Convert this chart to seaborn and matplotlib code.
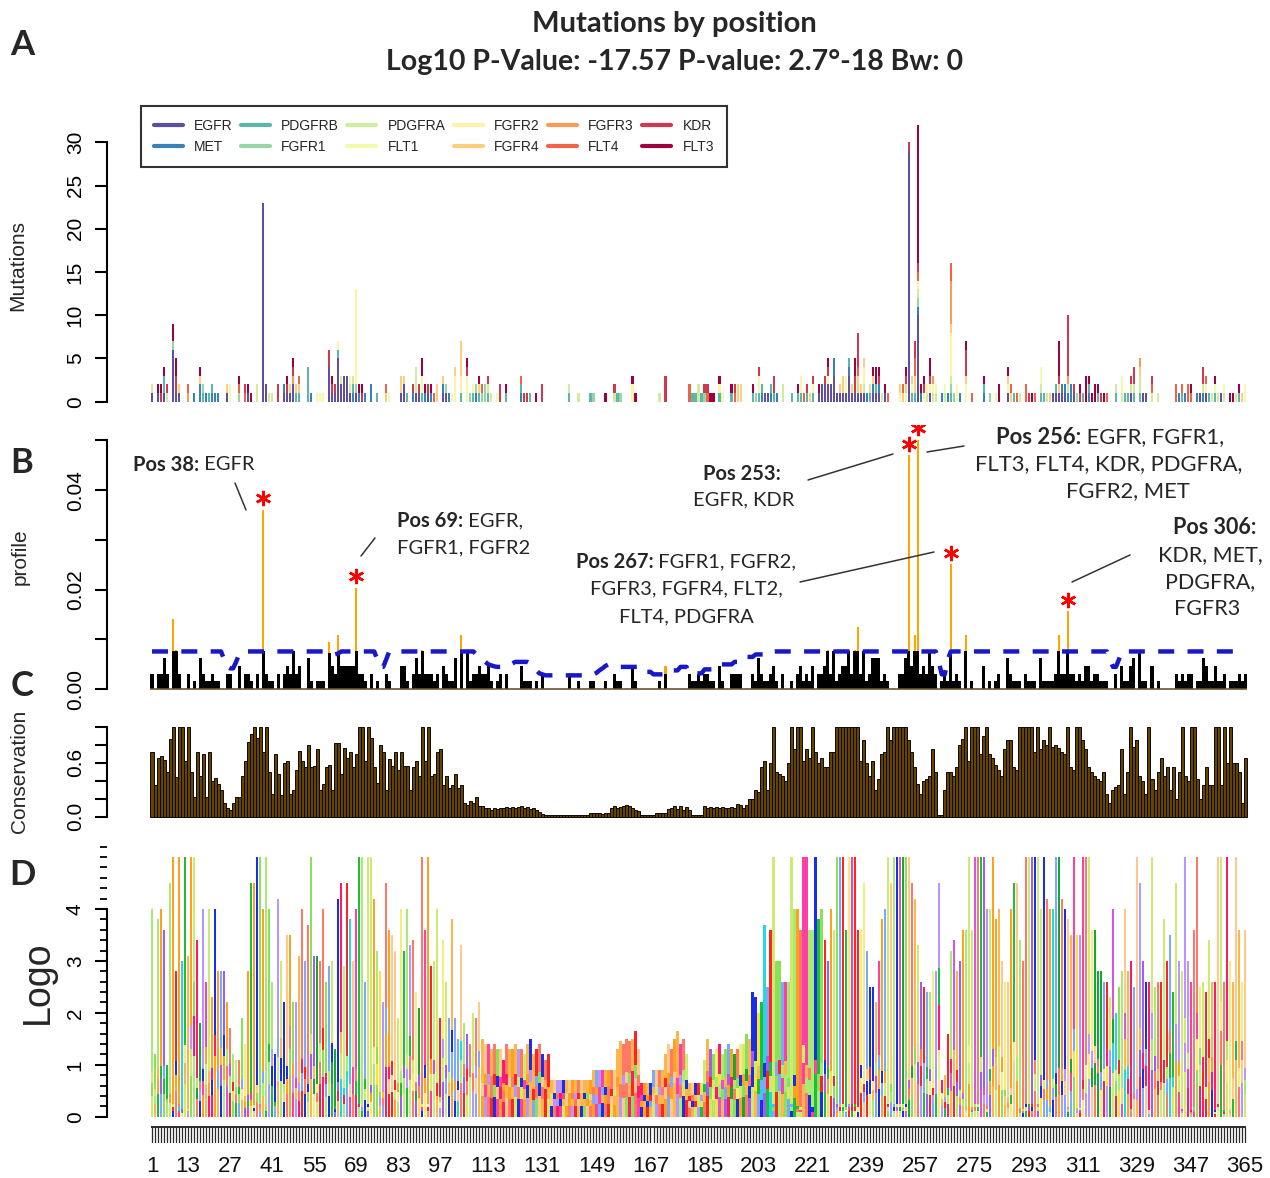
import numpy as np
import pandas as pd
import matplotlib
matplotlib.use("Agg")
import matplotlib.pyplot as plt
from matplotlib.lines import Line2D
import seaborn as sns

# ------------------------------------------------------------------ data
genes = ["EGFR", "MET", "PDGFRB", "FGFR1", "PDGFRA", "FLT1",
         "FGFR2", "FGFR4", "FGFR3", "FLT4", "KDR", "FLT3"]

# mutations per position for each gene  {position: count}
EGFR = {1: 1, 3: 1, 5: 1, 8: 6, 9: 1, 10: 1, 26: 1, 33: 1, 38: 23, 39: 2, 45: 1, 46: 1,
        47: 1, 48: 2, 60: 4, 61: 1, 62: 1, 63: 5, 64: 2, 65: 3, 66: 3, 67: 1, 69: 1,
        84: 1, 85: 2, 89: 1, 90: 1, 93: 1, 98: 1, 99: 1, 205: 1, 206: 1, 223: 1,
        224: 2, 225: 2, 226: 2, 227: 2, 228: 3, 229: 1, 230: 1, 231: 1, 232: 1,
        233: 3, 234: 1, 235: 1, 236: 1, 237: 1, 238: 1, 241: 1, 242: 1, 243: 1,
        245: 1, 253: 29, 256: 10, 260: 1, 286: 1, 301: 1, 302: 1, 303: 1, 304: 1,
        305: 1, 308: 1, 327: 1, 331: 1, 332: 1, 350: 1, 352: 1, 357: 1}
MET = {15: 1, 17: 2, 19: 1, 21: 1, 22: 1, 23: 1, 45: 1, 54: 1, 68: 1, 70: 1, 72: 1,
       74: 2, 88: 1, 92: 1, 94: 1, 98: 1, 100: 1, 109: 1, 124: 1, 204: 1, 207: 1,
       209: 1, 228: 2, 233: 1, 239: 1, 241: 1, 243: 1, 256: 1, 257: 1, 264: 1,
       266: 1, 270: 1, 278: 1, 304: 1, 305: 1, 306: 1, 307: 2, 313: 1, 343: 1,
       345: 1, 349: 1, 351: 1}
PDGFRB = {5: 2, 18: 1, 20: 1, 21: 1, 49: 1, 50: 1, 53: 4, 63: 1, 68: 1, 76: 1, 86: 1,
          91: 1, 104: 1, 108: 1, 110: 1, 113: 1, 119: 1, 124: 1, 127: 1, 140: 1,
          147: 1, 156: 1, 181: 1, 182: 1, 184: 1, 190: 1, 194: 1, 201: 1, 203: 1,
          204: 1, 207: 1, 208: 1, 214: 1, 216: 1, 217: 1, 219: 1, 221: 1, 233: 1,
          240: 1, 242: 1, 254: 1, 255: 1, 267: 1, 278: 1, 288: 1, 297: 1, 298: 1,
          302: 1, 311: 1, 313: 1, 316: 1, 322: 1, 325: 1, 326: 1, 328: 1, 330: 1,
          344: 1, 353: 1, 355: 1, 363: 1}
FGFR1 = {8: 1, 18: 1, 30: 1, 69: 1, 99: 1, 107: 1, 109: 1, 111: 1, 112: 2, 148: 1,
         157: 1, 185: 1, 202: 1, 256: 1, 267: 1, 268: 1, 280: 1, 309: 1}
PDGFRA = {1: 1, 6: 1, 36: 2, 40: 1, 41: 1, 64: 1, 67: 1, 68: 1, 89: 3, 113: 1, 114: 1,
          140: 1, 143: 1, 155: 1, 170: 1, 183: 2, 211: 2, 238: 1, 240: 1, 244: 1,
          256: 1, 259: 1, 261: 1, 262: 1, 265: 1, 267: 1, 290: 1, 297: 1, 299: 1,
          306: 1, 322: 1, 324: 1, 327: 1, 328: 1, 330: 2, 334: 1, 336: 1, 351: 1,
          354: 1, 356: 1, 358: 1, 362: 1}
FLT1 = {27: 2, 56: 1, 57: 1, 58: 1, 63: 1, 67: 1, 80: 1, 91: 2, 101: 1, 106: 2, 116: 1,
        191: 1, 203: 1, 217: 1, 221: 1, 232: 2, 254: 1, 261: 1, 262: 1, 265: 1,
        269: 2, 272: 2, 297: 2, 324: 2, 355: 1, 358: 1, 365: 2}
FGFR2 = {69: 11, 102: 3, 104: 2, 106: 1, 108: 1, 161: 2, 190: 1, 203: 1, 217: 1,
         226: 1, 238: 2, 250: 1, 252: 1, 256: 1, 258: 1, 259: 1, 260: 1, 267: 5,
         282: 1, 286: 1, 352: 1}
FGFR4 = {10: 1, 17: 1, 26: 1, 47: 1, 49: 1, 50: 1, 79: 1, 84: 2, 85: 1, 96: 2, 98: 1,
         102: 1, 104: 4, 110: 1, 196: 2, 197: 2, 220: 1, 230: 1, 231: 2, 234: 1,
         236: 2, 237: 1, 238: 1, 241: 1, 250: 1, 251: 1, 252: 1, 254: 1, 255: 2,
         267: 1, 272: 1, 286: 1, 287: 1, 300: 1, 303: 1, 330: 1, 364: 1}
FGFR3 = {13: 1, 48: 1, 261: 1, 267: 5, 306: 1, 330: 1}
FLT4 = {13: 1, 30: 1, 32: 1, 50: 1, 79: 1, 95: 1, 111: 1, 124: 1, 180: 2, 186: 1,
        195: 1, 218: 1, 236: 1, 246: 1, 251: 1, 255: 2, 256: 1, 267: 2, 274: 1,
        287: 1, 289: 1, 292: 2, 295: 1, 319: 1, 334: 1, 342: 2, 344: 1, 346: 2,
        347: 1, 352: 1}
KDR = {4: 1, 6: 1, 9: 2, 32: 1, 43: 2, 46: 1, 48: 1, 60: 2, 61: 1, 62: 1, 71: 1, 88: 1,
       90: 1, 93: 1, 106: 1, 113: 1, 117: 2, 125: 1, 126: 1, 131: 2, 155: 1, 172: 3,
       185: 1, 186: 1, 195: 1, 203: 1, 208: 2, 219: 1, 221: 1, 225: 1, 226: 1,
       235: 2, 236: 4, 243: 1, 252: 1, 253: 1, 255: 2, 256: 1, 258: 1, 260: 1,
       272: 3, 293: 1, 303: 1, 306: 7, 308: 1, 310: 1, 317: 1, 327: 1, 328: 2,
       334: 1, 351: 2}
FLT3 = {3: 1, 4: 1, 5: 1, 8: 2, 9: 2, 17: 1, 30: 1, 33: 1, 34: 1, 46: 1, 48: 1, 61: 1,
        70: 1, 71: 1, 91: 2, 92: 1, 94: 1, 106: 1, 110: 1, 119: 1, 129: 1, 152: 1,
        161: 1, 162: 1, 187: 1, 188: 1, 190: 1, 194: 1, 201: 1, 216: 1, 223: 1,
        226: 1, 235: 2, 241: 1, 242: 2, 243: 1, 245: 1, 252: 1, 256: 16, 257: 1,
        258: 1, 260: 2, 272: 1, 278: 1, 283: 2, 286: 1, 294: 1, 303: 4, 310: 1,
        312: 3, 313: 1, 314: 1, 315: 2, 316: 1, 318: 1, 347: 1, 355: 1, 360: 1,
        361: 1, 363: 1}

total_mutations = 638          # profile = mutations / total
significant_positions = [38, 69, 253, 256, 267, 306]

# background threshold (dashed line), units of 1e-4
threshold_e4 = [
    76, 76, 76, 76, 76, 76, 76, 76, 76, 76, 76, 76, 76, 76, 76, 76, 76, 76, 76, 76,
    76, 76, 76, 76, 60, 45, 42, 42, 55, 70, 76, 76, 76, 76, 76, 76, 76, 76, 76, 76,
    76, 76, 76, 76, 76, 76, 76, 76, 76, 76, 76, 76, 76, 76, 76, 76, 76, 76, 76, 72,
    70, 70, 72, 76, 76, 76, 76, 76, 76, 76, 76, 76, 76, 76, 76, 60, 45, 45, 60, 76,
    76, 76, 76, 76, 76, 76, 76, 76, 76, 76, 76, 76, 76, 76, 76, 76, 76, 76, 76, 76,
    76, 76, 76, 76, 76, 76, 76, 76, 70, 65, 60, 55, 50, 48, 46, 45, 45, 45, 45, 48,
    52, 55, 55, 55, 55, 55, 52, 45, 38, 32, 30, 28, 28, 28, 28, 28, 28, 28, 28, 28,
    28, 28, 28, 28, 28, 28, 28, 30, 33, 38, 42, 47, 50, 50, 48, 46, 45, 45, 45, 45,
    45, 45, 45, 35, 35, 35, 35, 30, 30, 30, 30, 30, 38, 38, 38, 38, 45, 45, 45, 32,
    32, 32, 32, 32, 40, 40, 40, 40, 40, 50, 50, 50, 50, 50, 55, 55, 55, 65, 65, 65,
    65, 70, 70, 70, 70, 76, 76, 76, 76, 76, 76, 76, 76, 76, 76, 76, 76, 76, 76, 76,
    76, 76, 76, 76, 76, 76, 76, 76, 76, 76, 76, 76, 76, 76, 76, 76, 76, 76, 76, 76,
    76, 76, 76, 76, 76, 76, 76, 76, 76, 76, 76, 76, 76, 76, 76, 76, 76, 76, 76, 76,
    76, 76, 55, 30, 30, 60, 76, 76, 76, 76, 76, 76, 76, 76, 76, 76, 76, 76, 76, 76,
    76, 76, 76, 76, 76, 76, 76, 76, 76, 76, 76, 76, 76, 76, 76, 76, 76, 76, 76, 76,
    76, 76, 76, 76, 76, 76, 76, 76, 76, 76, 76, 76, 76, 76, 76, 76, 76, 76, 76, 60,
    45, 45, 60, 76, 76, 76, 76, 76, 76, 76, 76, 76, 76, 76, 76, 76, 76, 76, 76, 76,
    76, 76, 76, 76, 76, 76, 76, 76, 76, 76, 76, 76, 76, 76, 76, 76, 76, 76, 76, 76,
    76, 76, 76, 76, 76]

conservation = [
    0.72, 0.35, 0.66, 0.68, 0.63, 0.50, 0.87, 1.00, 0.44, 1.00, 1.00, 0.62, 1.00, 0.50, 0.22, 0.72, 0.45, 0.70, 0.22, 0.72,
    0.40, 0.43, 0.37, 0.30, 0.15, 0.10, 0.07, 0.15, 0.22, 0.22, 0.45, 0.62, 0.83, 0.92, 1.00, 0.88, 1.00, 0.72, 1.00, 0.50,
    0.25, 0.70, 0.48, 0.24, 0.60, 0.62, 0.25, 0.30, 0.52, 0.73, 0.62, 0.55, 0.80, 0.55, 0.56, 0.75, 0.30, 0.37, 0.55, 0.58,
    0.30, 0.82, 0.82, 0.48, 0.77, 0.65, 0.72, 0.55, 0.70, 1.00, 1.00, 0.62, 1.00, 0.88, 0.55, 0.38, 0.80, 0.72, 0.30, 0.64,
    0.57, 0.72, 0.52, 0.72, 0.57, 0.57, 0.30, 0.55, 0.62, 0.45, 1.00, 0.62, 1.00, 0.45, 0.48, 0.72, 0.75, 0.35, 0.45, 0.32,
    0.35, 0.48, 0.32, 0.35, 0.15, 0.13, 0.17, 0.15, 0.22, 0.12, 0.12, 0.10, 0.10, 0.08, 0.10, 0.09, 0.10, 0.10, 0.11, 0.10,
    0.11, 0.10, 0.11, 0.12, 0.10, 0.11, 0.09, 0.10, 0.08, 0.05, 0.03, 0.02, 0.02, 0.02, 0.02, 0.02, 0.02, 0.02, 0.02, 0.02,
    0.02, 0.02, 0.02, 0.02, 0.02, 0.02, 0.04, 0.04, 0.04, 0.04, 0.03, 0.04, 0.04, 0.10, 0.12, 0.10, 0.11, 0.12, 0.13, 0.12,
    0.10, 0.08, 0.06, 0.02, 0.02, 0.02, 0.02, 0.02, 0.04, 0.04, 0.04, 0.04, 0.09, 0.10, 0.12, 0.09, 0.12, 0.08, 0.11, 0.08,
    0.02, 0.02, 0.02, 0.02, 0.12, 0.10, 0.11, 0.10, 0.11, 0.10, 0.11, 0.10, 0.10, 0.11, 0.10, 0.14, 0.13, 0.10, 0.13, 0.20,
    0.20, 0.30, 0.27, 0.55, 0.62, 0.30, 0.60, 1.00, 0.50, 0.48, 0.45, 0.40, 0.60, 1.00, 0.75, 1.00, 1.00, 0.62, 0.75, 0.65,
    1.00, 0.72, 0.60, 0.65, 0.55, 0.55, 0.72, 0.72, 1.00, 1.00, 1.00, 1.00, 1.00, 1.00, 1.00, 1.00, 0.62, 0.85, 0.60, 0.45,
    0.62, 0.30, 0.42, 0.70, 0.72, 1.00, 0.85, 1.00, 1.00, 1.00, 1.00, 1.00, 0.85, 0.72, 0.55, 0.37, 0.25, 0.40, 0.42, 0.45,
    0.75, 0.50, 0.02, 0.02, 0.30, 0.50, 0.50, 0.45, 0.55, 0.80, 0.87, 1.00, 0.62, 1.00, 1.00, 1.00, 0.70, 0.90, 1.00, 0.70,
    0.65, 0.58, 0.52, 0.45, 0.75, 0.85, 0.85, 0.55, 0.52, 1.00, 1.00, 1.00, 1.00, 1.00, 0.72, 1.00, 0.75, 0.85, 0.80, 1.00,
    0.78, 0.80, 0.77, 0.72, 0.70, 1.00, 0.55, 0.52, 1.00, 1.00, 0.85, 0.75, 0.55, 0.50, 0.45, 0.42, 0.40, 0.50, 0.25, 0.15,
    0.30, 0.33, 0.35, 0.75, 0.25, 0.50, 1.00, 0.78, 0.85, 0.45, 0.40, 0.25, 1.00, 0.42, 0.30, 0.50, 0.65, 0.45, 0.55, 0.30,
    0.55, 0.20, 0.50, 1.00, 0.45, 0.40, 1.00, 1.00, 0.42, 0.20, 0.35, 0.55, 0.35, 0.35, 1.00, 1.00, 0.35, 1.00, 0.60, 1.00,
    0.60, 0.60, 0.50, 0.15, 0.65]

logo_height = [
    4.0, 1.2, 3.8, 4.0, 3.6, 1.0, 4.5, 5.0, 2.8, 5.0, 3.0, 5.0, 3.1, 5.0, 5.0, 3.4, 1.8, 4.0, 2.6, 4.0,
    2.3, 4.0, 2.8, 2.8, 2.8, 2.2, 1.7, 1.2, 1.1, 1.1, 1.9, 1.4, 2.8, 4.5, 4.5, 5.0, 5.0, 4.0, 5.0, 4.0,
    2.6, 1.2, 4.2, 3.0, 2.2, 3.5, 3.5, 2.2, 2.2, 3.1, 4.0, 3.0, 3.7, 5.0, 3.1, 3.1, 3.0, 4.0, 2.6, 2.9,
    3.0, 1.3, 4.2, 4.5, 2.9, 4.5, 3.8, 3.0, 4.0, 5.0, 5.0, 2.6, 5.0, 5.0, 4.2, 3.2, 2.8, 2.2, 4.5, 3.6,
    3.5, 3.2, 1.9, 4.0, 3.2, 4.0, 3.3, 3.4, 2.4, 2.1, 5.0, 3.6, 5.0, 2.9, 3.0, 4.0, 1.9, 3.4, 2.6, 1.9,
    3.8, 1.9, 1.5, 3.3, 1.8, 1.6, 1.4, 2.0, 1.9, 2.2, 1.5, 1.4, 1.4, 1.3, 1.4, 1.3, 1.3, 1.1, 1.4, 1.3,
    1.3, 1.4, 1.3, 1.3, 1.2, 1.4, 1.5, 1.2, 1.3, 1.4, 1.2, 1.1, 1.2, 0.7, 0.7, 0.7, 0.7, 0.7, 0.7, 0.7,
    0.7, 0.7, 0.7, 0.7, 0.7, 0.7, 0.7, 0.9, 0.9, 0.9, 0.9, 0.9, 0.9, 0.9, 0.9, 1.3, 1.45, 1.4, 1.5, 1.45,
    1.5, 1.65, 1.3, 0.65, 0.65, 0.65, 0.65, 0.9, 0.9, 0.9, 0.9, 1.2, 1.4, 1.3, 1.5, 1.65, 1.4, 1.5, 1.2, 0.65,
    0.65, 0.65, 0.65, 0.65, 1.1, 1.5, 1.3, 1.2, 1.3, 1.4, 1.2, 1.3, 1.4, 1.3, 1.2, 1.3, 1.4, 1.4, 1.6, 1.5,
    2.4, 2.3, 2.0, 2.2, 3.7, 2.5, 3.6, 5.0, 3.0, 3.0, 2.6, 2.6, 2.6, 5.0, 4.0, 4.0, 3.6, 5.0, 5.0, 3.6,
    3.6, 5.0, 3.8, 4.0, 3.4, 3.0, 4.0, 3.6, 5.0, 5.0, 5.0, 3.6, 5.0, 5.0, 5.0, 3.6, 3.6, 4.5, 3.2, 2.5,
    2.5, 2.2, 3.0, 3.8, 4.0, 5.0, 4.5, 5.0, 5.0, 5.0, 5.0, 5.0, 5.0, 4.5, 4.2, 3.3, 2.6, 2.5, 2.4, 2.4,
    2.8, 2.8, 4.5, 0.7, 0.8, 1.6, 3.2, 3.4, 2.8, 3.0, 3.6, 3.6, 5.0, 3.6, 5.0, 5.0, 5.0, 5.0, 4.0, 4.0,
    5.0, 3.8, 4.0, 3.0, 2.6, 2.6, 4.0, 4.5, 4.5, 3.4, 3.0, 5.0, 5.0, 5.0, 5.0, 5.0, 4.0, 5.0, 4.2, 4.0,
    4.0, 5.0, 5.0, 4.2, 4.0, 3.8, 3.5, 5.0, 3.5, 3.5, 5.0, 5.0, 5.0, 3.6, 3.6, 2.8, 2.8, 2.6, 2.6, 2.3,
    4.0, 2.0, 2.5, 2.8, 4.0, 2.8, 3.0, 2.5, 5.0, 4.5, 3.0, 2.6, 2.6, 5.0, 2.5, 2.6, 2.6, 3.8, 3.0, 3.5,
    2.4, 4.5, 3.0, 2.8, 5.0, 3.0, 2.6, 3.6, 5.0, 2.5, 2.6, 2.4, 3.4, 2.6, 2.6, 5.0, 5.0, 2.6, 5.0, 3.0,
    2.6, 5.0, 3.6, 2.6, 3.6]

logo_main_residue = (
    "VAVGFIVGDG HISGLQMTNL GKGRFGEVLE AYGIGKAGVA VKTLKPGATS "
    "EREAFMEEAR LMKQLDHPNI VRLLGVCTEG PPLYIVTEYM ENGDLLDYLR "
    "SRRPVFELEP SPNSEAPQES GSTELSKSDE KEDSPTTKSP GSEPSSGSRT "
    "NSGEPSSEEE SDPQGSKRPE SSPEGSNELS PKDLLSFAYQ VARGMEYLAS "
    "KKCIHRDLAA RNVLVGENNV VKIADFGLAR DIYNDDYYRK KSNGRLPVKW "
    "MAPESLFDRV YTTQSDVWSF GVLLWEIFTL GGSPYPGIPV EELFKLLKEG "
    "HRMEKPSNCT NELYMMMRDC WHAVPSQRPT FKQLVEDLDR ILTLTTNEEY "
    "LDLSQPLEQY SPSYP").replace(" ", "")
logo_second_residue = (
    "LSIRAVLKEN YLTAVEKGSQ QGSKVWDAIR SFNLPERSIT IRSVKEGNTQ "
    "DKLSYLDQVK IFSHVRNEQV IKFYAASRQD DGVFLILEFC KYGNLSTFLK "
    "GKHEDLLTRS GTEDKNGQPE DLKNGTSRAP SDLKEQNLGE TDSKAPEGNR "
    "KEDLGSTPAQ AENKGDSLTE DGRPSTVKDE SLTIEDLVCW SFQVAKGMEF "
    "LSRKFIHRDV SARKILLSEK NIVKICDFGL ARDIYKDPDY VRKGDARLPL "
    "KWMAPETIFD RIYTIQSDVW SYGVLLWEIF SLGASPYPGV KIDEEFCRRL "
    "KEGTRMRAPD YTTPEMYQTM LDCWHGEPSQ RPTFSELVEH LGNLLQANAQ "
    "QDGKDYIVLP ISETL").replace(" ", "")

axis_positions = [1, 13, 27, 41, 55, 69, 83, 97, 113, 131, 149, 167, 185, 203,
                  221, 239, 257, 275, 293, 311, 329, 347, 365]

aa_colors = {'A': '#8BE05A', 'V': '#A8EB72', 'L': '#CDEB6E', 'I': '#1DBF3A', 'M': '#12A832',
             'G': '#FFA11C', 'S': '#FFB54D', 'P': '#FFC98A', 'C': '#FFE03A', 'Y': '#F4EE78',
             'F': '#A35CF2', 'T': '#B796FF', 'W': '#D955E0', 'R': '#7AA9FF', 'K': '#1A2EE6',
             'H': '#21D9DE', 'D': '#FF2424', 'E': '#FF7A66', 'N': '#FF3FA6', 'Q': '#FF1A6E'}

assert len(threshold_e4) == 365 and len(conservation) == 365 and len(logo_height) == 365
assert len(logo_main_residue) == 365 and len(logo_second_residue) == 365

# ------------------------------------------------------------------ setup
sns.set_theme(style="white")
plt.rcParams['font.family'] = ['Liberation Sans', 'DejaVu Sans']

W, H = 1270, 1178
fig = plt.figure(figsize=(W / 100, H / 100), dpi=100)


def rect(l, t, r, b):
    return [l / W, 1 - b / H, (r - l) / W, (b - t) / H]


def fx(x):
    return x / W


def fy(y):
    return 1 - y / H


PX_PER_POS = 3.003
XL = 1 - (152 - 107) / PX_PER_POS
XR = 1 + (1262 - 152) / PX_PER_POS

gene_tables = {"EGFR": EGFR, "MET": MET, "PDGFRB": PDGFRB, "FGFR1": FGFR1,
               "PDGFRA": PDGFRA, "FLT1": FLT1, "FGFR2": FGFR2, "FGFR4": FGFR4,
               "FGFR3": FGFR3, "FLT4": FLT4, "KDR": KDR, "FLT3": FLT3}
rows = [(g, p, c) for g in genes for p, c in gene_tables[g].items()]
df = pd.DataFrame(rows, columns=["gene", "position", "count"])
colors = sns.color_palette(plt.get_cmap("Spectral_r")(np.linspace(0, 1, 12)))
gene_colors = dict(zip(genes, colors))

pos = np.arange(1, 366)
counts = df.groupby("position")["count"].sum().reindex(pos, fill_value=0).to_numpy()
profile = counts / total_mutations
thr = np.array(threshold_e4) / 1e4
cons = np.array(conservation)
logo_h = np.array(logo_height)


def style_left(ax, lo, hi, ticks, labels, size=15):
    for s in ["top", "right", "bottom"]:
        ax.spines[s].set_visible(False)
    ax.spines["left"].set_bounds(lo, hi)
    ax.spines["left"].set_linewidth(1.5)
    ax.spines["left"].set_color("black")
    ax.set_yticks(ticks)
    ax.set_yticklabels(labels, rotation=90, va="center", fontsize=size)
    ax.tick_params(axis="y", left=True, direction="out", length=9, width=1.5,
                   pad=7, colors="black")
    ax.tick_params(axis="x", bottom=False, labelbottom=False)
    ax.set_xlim(XL, XR)
    ax.set_xlabel("")
    ax.set_ylabel("")
    ax.set_facecolor("none")


# ------------------------------------------------------------------ panel A
ax_a = fig.add_axes(rect(107, 100, 1262, 412))
sns.histplot(data=df, x="position", weights="count", hue="gene",
             hue_order=genes[::-1], palette=gene_colors, multiple="stack",
             discrete=True, shrink=0.72, linewidth=0, alpha=1, legend=False, ax=ax_a)
ax_a.set_ylim(-1.19, 34.89)
style_left(ax_a, 0, 30, [0, 5, 10, 15, 20, 25, 30], ["0", "5", "10", "15", "20", "25", "30"])

handles = [Line2D([0], [0], color=gene_colors[g], lw=3) for g in genes]
leg = ax_a.legend(handles, genes, ncol=6, loc="upper left",
                  bbox_to_anchor=(fx(141), fy(106)), bbox_transform=fig.transFigure,
                  frameon=True, fancybox=False, edgecolor="black", fontsize=10,
                  handlelength=2.1, columnspacing=0.6, borderpad=0.9,
                  labelspacing=0.55, handletextpad=0.8, borderaxespad=0)
leg.get_frame().set_linewidth(1.5)

# ------------------------------------------------------------------ panel B
ax_b = fig.add_axes(rect(107, 425, 1262, 695))
over = profile > thr
ax_b.bar(pos[over], profile[over], width=0.75, color="#FFA500", linewidth=0, zorder=1)
ax_b.bar(pos, np.minimum(profile, thr), width=1.0, color="black", linewidth=0, zorder=2)
ax_b.hlines(0, 0.5, 365.5, color="#6b5530", lw=1.2, zorder=3)
sns.lineplot(x=pos, y=thr, ax=ax_b, color="#1818C8", lw=3.2, estimator=None,
             linestyle=(0, (3.6, 3.0)), zorder=4)
for p in significant_positions:
    ax_b.plot(p, profile[p - 1] + 0.0023, marker=(6, 2, 0), ms=11, mew=1.8,
              color="red", zorder=5)
ax_b.set_ylim(-0.001145, 0.05307)
style_left(ax_b, 0, 0.05, [0, 0.01, 0.02, 0.03, 0.04, 0.05],
           ["0.00", "", "0.02", "", "0.04", ""])

# ------------------------------------------------------------------ panel C
ax_c = fig.add_axes(rect(107, 700, 1262, 822))
ax_c.bar(pos, cons, width=1.0, color="#654400", edgecolor="#0d0800", linewidth=0.7)
ax_c.set_ylim(-0.059, 1.301)
style_left(ax_c, 0, 1.0, [0, 0.2, 0.4, 0.6, 0.8, 1.0], ["0.0", "", "", "0.6", "", ""])

# ------------------------------------------------------------------ panel D (logo)
ax_d = fig.add_axes(rect(107, 838, 1262, 1121))
main_c = [aa_colors[r] for r in logo_main_residue]
sec_c = [aa_colors[r] for r in logo_second_residue]
nxt_c = main_c[1:] + main_c[:1]
prv_c = sec_c[-1:] + sec_c[:-1]
main_part = logo_h * (0.35 + 0.6 * cons)
rest = logo_h - main_part
b0 = np.zeros(365)
for frac, cols in [(0.45, sec_c), (0.30, nxt_c), (0.25, prv_c)]:
    ax_d.bar(pos, rest * frac, bottom=b0, width=0.78, color=cols, linewidth=0)
    b0 = b0 + rest * frac
ax_d.bar(pos, main_part, bottom=b0, width=0.78, color=main_c, linewidth=0)
ax_d.set_ylim(-0.083, 5.367)
style_left(ax_d, 0, 4, [0, 1, 2, 3, 4], ["0", "1", "2", "3", "4"])
minor = [round(v, 1) for v in np.arange(0.2, 5.21, 0.2) if abs(v - round(v)) > 1e-6 or v > 4.5]
ax_d.set_yticks(minor, minor=True)
ax_d.tick_params(axis="y", which="minor", left=True, direction="out", length=5,
                 width=1.3, colors="black")

# ruler under logo
ax_r = fig.add_axes(rect(107, 1126, 1262, 1143))
ax_r.vlines(pos, 0, 1, color="#2a2a2a", lw=0.9)
ax_r.hlines(1, 0.6, 365.4, color="#2a2a2a", lw=1.4)
ax_r.set_xlim(XL, XR)
ax_r.set_ylim(0, 1.05)
ax_r.axis("off")
for p in axis_positions:
    fig.text(fx(152 + (p - 1) * PX_PER_POS), fy(1166), str(p), ha="center",
             va="center", fontsize=16, color="#111111")

# ------------------------------------------------------------------ texts
fig.text(fx(674), fy(24), "Mutations by position", ha="center", va="center",
         fontsize=21, fontweight="bold", family="Lato")
fig.text(fx(675), fy(62), "Log10 P-Value: -17.57 P-value: 2.7°-18 Bw: 0", ha="center",
         va="center", fontsize=20.5, fontweight="bold", family="Lato")
for letter, y in [("A", 45), ("B", 463), ("C", 686), ("D", 875)]:
    fig.text(fx(22), fy(y), letter, ha="center", va="center", fontsize=25,
             fontweight="bold", family="Lato")

fig.text(fx(18), fy(265), "Mutations", rotation=90, ha="center", va="center", fontsize=15)
fig.text(fx(20), fy(557), "profile", rotation=90, ha="center", va="center", fontsize=15)
fig.text(fx(20), fy(771), "Conservation", rotation=90, ha="center", va="center", fontsize=15)
fig.text(fx(38), fy(982), "Logo", rotation=90, ha="center", va="center", fontsize=27)

renderer = fig.canvas.get_renderer()


def mixed(x, y, bold, normal, ha="left", size=14.5):
    t1 = fig.text(0, 0, bold, fontsize=size, fontweight="bold", family="Lato",
                  va="center")
    t2 = fig.text(0, 0, normal, fontsize=size, family="Lato", va="center")
    w1 = t1.get_window_extent(renderer).width if bold else 0
    w2 = t2.get_window_extent(renderer).width if normal else 0
    tot = w1 + w2
    if ha == "center":
        x0 = x - tot / 2
    elif ha == "right":
        x0 = x - tot
    else:
        x0 = x
    t1.set_position((fx(x0), fy(y)))
    t2.set_position((fx(x0 + w1), fy(y)))


mixed(133, 465, "Pos 38:", " EGFR")
mixed(397, 521, "Pos 69:", " EGFR,")
mixed(397, 548, "", "FGFR1, FGFR2")
mixed(742, 474, "Pos 253:", "", ha="center")
mixed(744, 500, "", "EGFR, KDR", ha="center")
mixed(1110, 437, "Pos 256:", " EGFR, FGFR1,", ha="center", size=15.8)
mixed(1109, 464, "", "FLT3, FLT4, KDR, PDGFRA,", ha="center", size=15.8)
mixed(1128, 491, "", "FGFR2, MET", ha="center", size=15.8)
mixed(686, 562, "Pos 267:", " FGFR1, FGFR2,", ha="center")
mixed(686, 589, "", "FGFR3, FGFR4, FLT2,", ha="center")
mixed(686, 617, "", "FLT4, PDGFRA", ha="center")
mixed(1215, 527, "Pos 306:", "", ha="center", size=15.5)
mixed(1210, 555, "", "KDR, MET,", ha="center", size=15.5)
mixed(1210, 582, "", "PDGFRA,", ha="center", size=15.5)
mixed(1207, 609, "", "FGFR3", ha="center", size=15.5)

for (x1, y1, x2, y2) in [(235, 483, 246, 510), (375, 538, 361, 556),
                         (808, 480, 893, 454), (927, 452, 964, 446),
                         (800, 582, 934, 552), (1072, 582, 1130, 555)]:
    fig.add_artist(Line2D([fx(x1), fx(x2)], [fy(y1), fy(y2)], color="#333333", lw=1.1))

fig.savefig("out.png", dpi=100)
